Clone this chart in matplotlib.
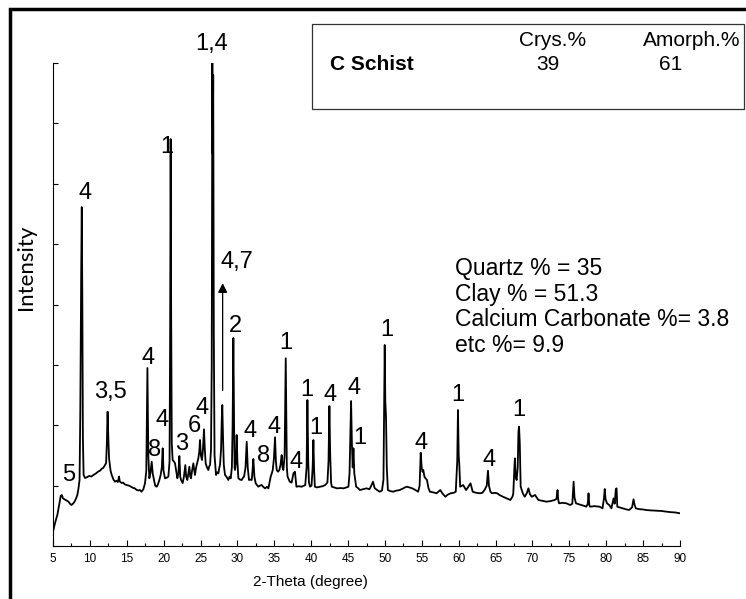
import numpy as np
import matplotlib.pyplot as plt
from matplotlib.patches import Rectangle

# XRD pattern (2-theta in degree, intensity in a.u.)
two_theta = [5.0, 5.3, 5.6, 5.9, 6.05, 6.2, 6.35, 6.6, 6.9, 7.1, 7.3, 7.5, 7.7, 7.9, 8.1, 8.3, 8.45, 8.6,
             8.7, 8.82, 8.9, 8.98, 9.05, 9.15, 9.35, 9.6, 9.9, 10.2, 10.47, 10.8, 11.1, 11.4, 11.6, 11.8,
             12.0, 12.2, 12.3, 12.4, 12.5, 12.6, 12.8, 12.96, 13.2, 13.4, 13.6, 13.8, 13.95, 14.05, 14.3,
             14.5, 14.75, 15.0, 15.3, 15.6, 15.9, 16.1, 16.35, 16.6, 16.8, 17.0, 17.25, 17.47, 17.65, 17.8,
             17.92, 18.06, 18.2, 18.38, 18.52, 18.69, 18.85, 19.06, 19.25, 19.42, 19.6, 19.75, 19.87, 19.98,
             20.18, 20.4, 20.64, 20.8, 20.88, 20.95, 21.02, 21.1, 21.22, 21.4, 21.54, 21.7, 21.86, 22.0,
             22.13, 22.25, 22.36, 22.58, 22.75, 22.94, 23.05, 23.21, 23.35, 23.49, 23.6, 23.71, 23.85, 24.03,
             24.15, 24.25, 24.4, 24.48, 24.6, 24.7, 24.82, 24.93, 25.05, 25.2, 25.33, 25.47, 25.58, 25.7,
             25.88, 26.06, 26.18, 26.29, 26.42, 26.52, 26.6, 26.66, 26.72, 26.8, 26.9, 27.1, 27.25, 27.42,
             27.55, 27.64, 27.78, 27.88, 27.95, 28.05, 28.15, 28.32, 28.5, 28.77, 28.95, 29.09, 29.25, 29.35,
             29.45, 29.55, 29.62, 29.68, 29.8, 29.9, 30.0, 30.13, 30.35, 30.58, 30.75, 30.9, 31.1, 31.26,
             31.4, 31.57, 31.75, 31.94, 32.05, 32.16, 32.3, 32.48, 32.65, 32.84, 33.05, 33.29, 33.5, 33.75,
             34.0, 34.2, 34.35, 34.51, 34.65, 34.79, 34.95, 35.1, 35.22, 35.33, 35.5, 35.69, 35.85, 36.0,
             36.12, 36.23, 36.4, 36.5, 36.55, 36.62, 36.7, 36.8, 37.1, 37.35, 37.6, 37.8, 37.95, 38.0, 38.3,
             38.7, 39.0, 39.2, 39.38, 39.49, 39.6, 39.7, 39.85, 40.05, 40.2, 40.3, 40.4, 40.5, 40.8, 41.2,
             41.55, 41.9, 42.2, 42.35, 42.47, 42.58, 42.7, 42.8, 43.1, 43.5, 44.0, 44.4, 44.75, 45.05, 45.2,
             45.32, 45.41, 45.52, 45.63, 45.73, 45.85, 46.1, 46.35, 46.6, 47.0, 47.5, 47.9, 48.15, 48.38,
             48.6, 48.9, 49.3, 49.6, 49.8, 49.9, 49.97, 50.05, 50.15, 50.25, 50.4, 50.7, 51.1, 51.5, 52.0,
             52.4, 52.7, 53.0, 53.3, 53.7, 54.1, 54.5, 54.7, 54.85, 54.98, 55.1, 55.2, 55.35, 55.5, 55.7,
             55.9, 56.1, 56.5, 57.0, 57.5, 57.8, 58.2, 58.5, 58.9, 59.3, 59.6, 59.8, 59.9, 60.0, 60.08, 60.2,
             60.6, 61.0, 61.3, 61.6, 61.9, 62.4, 62.9, 63.2, 63.5, 63.8, 63.97, 64.1, 64.3, 64.5, 64.9, 65.2,
             65.6, 66.0, 66.5, 67.0, 67.3, 67.4, 67.55, 67.62, 67.72, 67.85, 68.0, 68.1, 68.18, 68.28, 68.4,
             68.7, 68.95, 69.25, 69.45, 69.65, 69.9, 70.35, 70.8, 71.3, 71.9, 72.5, 73.0, 73.25, 73.4, 73.5,
             73.6, 74.1, 74.6, 75.1, 75.4, 75.58, 75.7, 75.9, 76.3, 76.6, 77.0, 77.3, 77.5, 77.6, 77.7, 77.8,
             78.4, 79.1, 79.5, 79.7, 79.8, 79.9, 80.1, 80.4, 80.7, 81.0, 81.15, 81.3, 81.4, 81.5, 81.8, 82.2,
             82.6, 83.1, 83.5, 83.7, 83.85, 84.0, 84.5, 85.0, 85.4, 86.0, 86.8, 87.5, 88.2, 88.8, 89.4, 90.0]

intensity = [237, 390, 520, 720, 830, 845, 790, 770, 750, 734, 700, 679, 700, 730, 780, 845, 950, 1093,
             2200, 4500, 5614, 4000, 1800, 1176, 1126, 1140, 1160, 1150, 1176, 1200, 1230, 1250, 1280, 1292,
             1330, 1374, 1700, 2224, 1800, 1450, 1250, 1176, 1100, 1065, 1080, 1060, 1150, 1070, 1043,
             1050, 1020, 1010, 1000, 980, 960, 955, 927, 920, 927, 899, 940, 1038, 1250, 2948,
             1500, 1121, 1200, 1396, 1200, 1093, 1000, 982, 1030, 1093, 1180, 1300, 1618, 1250,
             1121, 1130, 1148, 1400, 3500, 6740, 3800, 1700, 1424, 1400, 1369, 1250, 1121, 1200,
             1490, 1150, 1093, 1043, 1150, 1341, 1150, 1093, 1200, 1313, 1150, 1121, 1250, 1369,
             1250, 1176, 1300, 1341, 1400, 1452, 1550, 1755, 1500, 1424, 1600, 1932, 1600, 1369,
             1300, 1259, 1320, 1341, 1600, 3000, 8000, 6500, 7800, 3500, 1500, 1176, 1220, 1204,
             1300, 1341, 1600, 2100, 2335, 1800, 1350, 1176, 1150, 1093, 1150, 1121, 1300, 2000,
             3444, 2000, 1300, 1259, 1400, 1838, 1400, 1121, 1100, 1093, 1130, 1148, 1300, 1727,
             1300, 1093, 1100, 1093, 1250, 1441, 1150, 1038, 1010, 982, 1000, 1010, 980, 955,
             980, 955, 1050, 1148, 1200, 1259, 1450, 1800, 1400, 1259, 1230, 1259, 1350, 1507,
             1300, 1259, 1500, 2500, 3108, 2200, 1300, 1148, 1065, 1050, 1204, 1230, 1050, 982, 990,
             982, 1000, 1010, 1300, 2418, 1400, 1050, 982, 1000, 1300, 1755, 1250, 982, 970, 982,
             990, 1010, 1050, 1400, 2318, 1500, 1050, 982, 970, 955, 960, 955, 970, 982, 1200,
             1900, 2401, 1700, 1300, 1618, 1200, 982, 960, 927, 940, 955, 940, 1000, 1065,
             960, 930, 899, 920, 1100, 2500, 3329, 2400, 2114, 1300, 927, 910, 899, 915, 927,
             950, 970, 982, 970, 955, 930, 899, 1000, 1545, 1300, 1230, 1259, 1150, 1121, 1093,
             960, 899, 890, 873, 927, 870, 816, 850, 873, 880, 899, 1400, 2252, 1500, 1350, 982,
             1010, 927, 980, 1038, 899, 880, 873, 880, 927, 1000, 1247, 1000, 900, 873, 880, 873,
             840, 816, 790, 762, 820, 873, 1300, 1452, 1150, 1093, 1300, 1900, 1976, 1700, 982,
             870, 816, 880, 955, 860, 816, 845, 762, 750, 734, 745, 762, 780, 927, 760,
             707, 715, 707, 679, 700, 1065, 800, 707, 690, 679, 665, 651, 700, 873, 680, 651,
             660, 651, 624, 800, 944, 780, 707, 680, 624, 789, 700, 940, 955, 651, 640, 624,
             610, 596, 640, 773, 680, 624, 610, 605, 596, 590, 585, 580, 568, 560, 555, 541]

# phase numbers written over the peaks: (label, 2-theta, intensity)
peak_labels = ['5', '4', '3,5', '4', '8', '4', '1', '3', '6', '4', '1,4', '4,7', '2', '4', '8', '4',
               '1', '4', '1', '1', '4', '4', '1', '1', '4', '1', '4', '1']
label_theta = [7.08, 9.34, 12.73, 17.84, 18.74, 19.73, 20.45, 22.45, 24.12, 25.24, 26.56, 29.95, 29.67,
               31.71, 33.51, 35.0, 36.55, 37.94, 39.39, 40.66, 42.55, 45.81, 46.53, 50.19, 54.85, 59.91,
               64.07, 68.13]
label_int = [1176, 5846, 2556, 3108, 1590, 2087, 6607, 1689, 1987, 2280, 8313, 4703, 3643,
             1910, 1490, 1976, 3357, 1396, 2583, 1949, 2501, 2611, 1783, 3577, 1711, 2501,
             1424, 2252]

# composition text
comp_lines = ['Quartz % = 35', 'Clay % = 51.3', 'Calcium Carbonate %= 3.8', 'etc %= 9.9']
sample_name = 'C Schist'
crys_pct = 39
amorph_pct = 61

plt.rcParams['font.family'] = ['Liberation Sans', 'DejaVu Sans']

W, H = 746, 599
fig = plt.figure(figsize=(W / 100, H / 100), dpi=100)
ax = fig.add_axes([53 / W, 1 - 546 / H, (680 - 53) / W, (546 - 63) / H])

ax.plot(two_theta, intensity, color='black', lw=1.3)

ax.set_xlim(5, 90)
ax.set_ylim(0, 8000)
ax.set_xticks(np.arange(5, 91, 5))
ax.set_xticks(np.arange(7.5, 90, 5), minor=True)
ax.set_yticks(np.arange(0, 8001, 1000))
ax.set_yticklabels([])
ax.tick_params(axis='x', which='major', direction='in', length=4.5, width=0.8, labelsize=8.5, pad=5)
ax.tick_params(axis='x', which='minor', direction='in', length=2.2, width=0.8)
ax.tick_params(axis='y', which='major', direction='in', length=3.5, width=0.8)
for s in ['top', 'right']:
    ax.spines[s].set_visible(False)
ax.spines['left'].set_linewidth(0.8)
ax.spines['bottom'].set_linewidth(0.8)

fig.text(310 / W, 1 - 582 / H, '2-Theta (degree)', ha='center', va='center', fontsize=11)
fig.text(26 / W, 1 - 267 / H, 'Intensity', rotation=90, ha='center', va='center',
         fontsize=16, family=['Lato', 'DejaVu Sans'])

for lab, tx, ty in zip(peak_labels, label_theta, label_int):
    ax.text(tx, ty, lab, ha='center', va='center', fontsize=17, clip_on=False)

ax.annotate('', xy=(28.0, 4400), xytext=(28.0, 2530),
            arrowprops=dict(arrowstyle='-|>', color='black', lw=0.9, mutation_scale=14))

# composition lines
for i, line in enumerate(comp_lines):
    fig.text(455 / W, 1 - (268 + 26 * i) / H, line, ha='left', va='center', fontsize=16.5)

# inset box with crystalline / amorphous split
fig.add_artist(Rectangle((312 / W, 1 - 109 / H), (744 - 312) / W, 85 / H, transform=fig.transFigure,
                         fill=False, ec='#333333', lw=0.9))
fig.text(553 / W, 1 - 40 / H, 'Crys.%', ha='center', va='center', fontsize=15)
fig.text(692 / W, 1 - 40 / H, 'Amorph.%', ha='center', va='center', fontsize=15)
fig.text(330 / W, 1 - 64 / H, sample_name, ha='left', va='center', fontsize=15, weight='bold')
fig.text(548 / W, 1 - 64 / H, str(crys_pct), ha='center', va='center', fontsize=15)
fig.text(671 / W, 1 - 64 / H, str(amorph_pct), ha='center', va='center', fontsize=15)

# thick outer frame (cut off at right and bottom)
fig.add_artist(Rectangle((10 / W, -0.1), 1.2, 1.1 - 9 / H, transform=fig.transFigure,
                         fill=False, ec='black', lw=2.5))

fig.savefig('out.png', dpi=100)
